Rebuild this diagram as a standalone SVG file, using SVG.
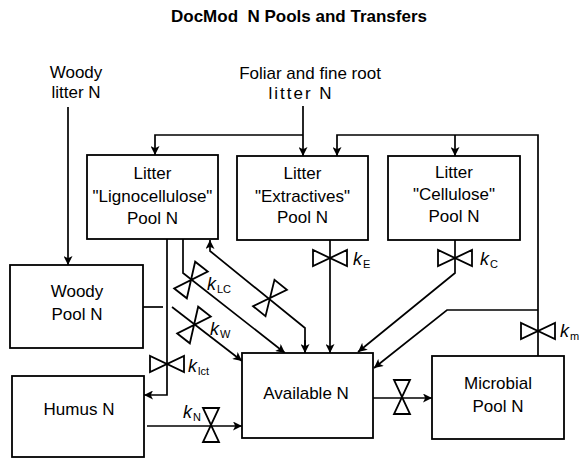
<svg xmlns="http://www.w3.org/2000/svg" width="579" height="461" viewBox="0 0 579 461">
<style>
.box{fill:#fff;stroke:#000;stroke-width:1.8}
.t{font-family:"Liberation Sans",Arial,sans-serif;font-size:17px;fill:#000;text-anchor:middle}
.title{font-family:"Liberation Sans",Arial,sans-serif;font-size:17px;font-weight:bold;fill:#000;text-anchor:middle}
.ln{fill:none;stroke:#000;stroke-width:1.7}
.k{font-family:"Liberation Sans",Arial,sans-serif;font-size:18px;font-style:italic;fill:#000}
.s{font-family:"Liberation Sans",Arial,sans-serif;font-size:11px;fill:#000}
.v{fill:none;stroke:#000;stroke-width:1.8}
</style>
<defs>
<marker id="arr" viewBox="0 0 10 10" refX="10" refY="5" markerWidth="10" markerHeight="9" markerUnits="userSpaceOnUse" orient="auto">
<path d="M0,0 L10,5 L0,10 L2.5,5 Z" fill="#000"/>
</marker>
<path id="valve" d="M-17,-8 L-17,8 L17,-8 L17,8 Z"/>
</defs>

<text class="title" x="299" y="22">DocMod&#160; N Pools and Transfers</text>

<g id="woody-litter-input">
<text class="t" x="76" y="78">Woody</text>
<text class="t" x="76" y="98">litter N</text>
</g>
<g id="foliar-input">
<text class="t" x="310" y="79">Foliar and fine root</text>
<text class="t" x="301" y="99" letter-spacing="2">litter N</text>
</g>

<g id="connectors">
<path class="ln" d="M68,107 V265" marker-end="url(#arr)"/>
<path class="ln" d="M303,106 V156" marker-end="url(#arr)"/>
<path class="ln" d="M303,135 H155 V155" marker-end="url(#arr)"/>
<path class="ln" d="M538,356 V135 H337 V156" marker-end="url(#arr)"/>
<path class="ln" d="M455,135 V156" marker-end="url(#arr)"/>
<path class="ln" d="M167,239 V395 H144" marker-end="url(#arr)"/>
<path class="ln" d="M143,307 H163"/>
<path class="ln" d="M172,307 L242,361" marker-end="url(#arr)"/>
<path class="ln" d="M183,239 V273 L285,353" marker-end="url(#arr)"/>
<path class="ln" d="M305,353 V328 L210,251 V240" marker-end="url(#arr)"/>
<path class="ln" d="M305,340 V353" marker-end="url(#arr)"/>
<path class="ln" d="M330,240 V353" marker-end="url(#arr)"/>
<path class="ln" d="M455,240 V273 L358,352" marker-end="url(#arr)"/>
<path class="ln" d="M538,310 H447 L374,368" marker-end="url(#arr)"/>
<path class="ln" d="M147,426 H242" marker-end="url(#arr)"/>
<path class="ln" d="M373,398 H432" marker-end="url(#arr)"/>
</g>

<g id="valves">
<use href="#valve" class="v" transform="translate(330,258)"/>
<use href="#valve" class="v" transform="translate(455,258)"/>
<use href="#valve" class="v" transform="translate(538,331)"/>
<use href="#valve" class="v" transform="translate(167,364)"/>
<use href="#valve" class="v" transform="translate(211,425) rotate(90)"/>
<use href="#valve" class="v" transform="translate(402,397) rotate(90)"/>
<use href="#valve" class="v" transform="translate(191,280) rotate(-52)"/>
<use href="#valve" class="v" transform="translate(270,298) rotate(-51)"/>
<use href="#valve" class="v" transform="translate(194,325) rotate(-52)"/>
</g>

<g id="rate-labels">
<text class="k" x="353" y="265">k</text><text class="s" x="363" y="268">E</text>
<text class="k" x="480" y="265">k</text><text class="s" x="490" y="268">C</text>
<text class="k" x="207" y="290">k</text><text class="s" x="217" y="293">LC</text>
<text class="k" x="210" y="335">k</text><text class="s" x="220" y="338">W</text>
<text class="k" x="188" y="372">k</text><text class="s" x="198" y="375">lct</text>
<text class="k" x="183" y="418">k</text><text class="s" x="193" y="421">N</text>
<text class="k" x="560" y="337">k</text><text class="s" x="570" y="340">m</text>
</g>

<g id="lignocellulose">
<rect class="box" x="87" y="155" width="131" height="84"/>
<text class="t" x="152.5" y="179">Litter</text>
<text class="t" x="152.5" y="202">"Lignocellulose"</text>
<text class="t" x="152.5" y="224">Pool N</text>
</g>
<g id="extractives">
<rect class="box" x="237" y="156" width="131" height="84"/>
<text class="t" x="302.5" y="179">Litter</text>
<text class="t" x="302.5" y="202">"Extractives"</text>
<text class="t" x="302.5" y="223">Pool N</text>
</g>
<g id="cellulose">
<rect class="box" x="388" y="156" width="132" height="84"/>
<text class="t" x="454" y="178">Litter</text>
<text class="t" x="454" y="200">"Cellulose"</text>
<text class="t" x="454" y="222">Pool N</text>
</g>
<g id="woody">
<rect class="box" x="10" y="265" width="133" height="83"/>
<text class="t" x="77" y="297">Woody</text>
<text class="t" x="77" y="320">Pool N</text>
</g>
<g id="humus">
<rect class="box" x="12" y="376" width="132" height="81"/>
<text class="t" x="79" y="415">Humus N</text>
</g>
<g id="available">
<rect class="box" x="242" y="353" width="131" height="85"/>
<text class="t" x="306" y="399">Available N</text>
</g>
<g id="microbial">
<rect class="box" x="432" y="356" width="132" height="83"/>
<text class="t" x="498" y="389">Microbial</text>
<text class="t" x="498" y="412">Pool N</text>
</g>
</svg>
